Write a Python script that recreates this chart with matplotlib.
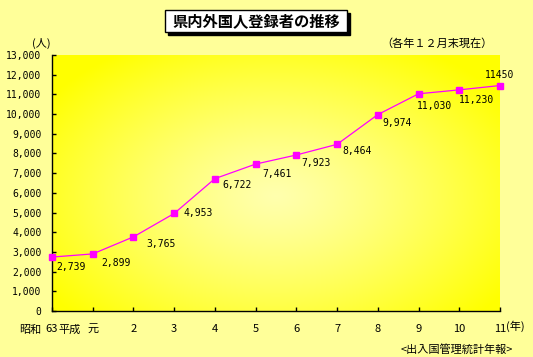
import numpy as np
import matplotlib.pyplot as plt
from matplotlib.patches import Rectangle

plt.rcParams['font.family'] = ['Noto Sans CJK JP', 'DejaVu Sans']

# データ（各年12月末現在）
years = ['63', '元', '2', '3', '4', '5', '6', '7', '8', '9', '10', '11']
persons = [2739, 2899, 3765, 4953, 6722, 7461, 7923, 8464, 9974, 11030, 11230, 11450]
value_labels = ['2,739', '2,899', '3,765', '4,953', '6,722', '7,461', '7,923',
                '8,464', '9,974', '11,030', '11,230', '11450']
y_ticks = list(range(0, 13001, 1000))

# ラベルの位置ずれ (px)
offsets = [(4, 10), (8.5, 9), (13, 7), (9, 0), (7, 6), (7, 10), (5, 8),
           (5, 7), (5, 8), (-2, 12), (0, 10), (0, -11)]

W, H = 533, 357
fig = plt.figure(figsize=(W/100, H/100), dpi=100, facecolor='#FFFF99')
ax = fig.add_axes([52/W, 1-311/H, 448/W, 256/H])

# 背景のグラデーション
gx, gy = np.meshgrid(np.linspace(0, 1, 200), np.linspace(0, 1, 200))
r = np.sqrt(((gx-0.5)/0.62)**2 + ((gy-0.45)/0.68)**2)
r = np.clip(r, 0, 1)**1.2
light = np.array([1.0, 1.0, 0.68])
yellow = np.array([1.0, 1.0, 0.0])
img = light*(1-r[..., None]) + yellow*r[..., None]
ax.imshow(img, extent=[0, 1, 0, 1], transform=ax.transAxes, aspect='auto',
          origin='lower', zorder=0)

x = np.arange(len(years))
ax.plot(x, persons, color='#FF00FF', lw=0.9, marker='s', markersize=5,
        markerfacecolor='#FF00FF', markeredgecolor='#FF00FF', clip_on=False, zorder=3)

for i, (v, lab) in enumerate(zip(persons, value_labels)):
    dx, dy = offsets[i]
    ha = 'center' if i == len(persons)-1 else 'left'
    ax.annotate(lab, (x[i], v), xytext=(dx*0.72, -dy*0.72), textcoords='offset points',
                ha=ha, va='center', fontsize=7, family=['DejaVu Sans Mono'], zorder=4)

ax.set_xlim(0, len(years)-1)
ax.set_ylim(0, 13000)
ax.set_yticks(y_ticks)
ax.set_yticklabels([f'{t:,}' for t in y_ticks], family=['DejaVu Sans Mono'], fontsize=7)
ax.set_xticks(x)
ax.set_xticklabels(years, fontsize=8)
ax.tick_params(axis='y', direction='in', length=3, width=1, pad=7.5)
ax.tick_params(axis='x', direction='in', length=3, width=1, pad=9)
for s in ['top', 'right']:
    ax.spines[s].set_visible(False)
for s in ['left', 'bottom']:
    ax.spines[s].set_linewidth(1)
ax.set_facecolor('#FFFF00')

# 文字
fig.text(41/W, 1-43.5/H, '(人)', ha='center', va='center', fontsize=8)
fig.text(437/W, 1-43.5/H, '（各年１２月末現在）', ha='center', va='center', fontsize=8)
fig.text(30/W, 1-329.5/H, '昭和', ha='center', va='center', fontsize=8)
fig.text(70/W, 1-329.5/H, '平成', ha='center', va='center', fontsize=8)
fig.text(506/W, 1-326/H, '(年)', ha='left', va='center', fontsize=8)
fig.text(401/W, 1-349/H, '<出入国管理統計年報>', ha='left', va='center', fontsize=8)

# タイトルの枠
fig.add_artist(Rectangle((168/W, 1-35/H), 182/W, 22/H, transform=fig.transFigure,
                         facecolor='black', edgecolor='black'))
fig.add_artist(Rectangle((165/W, 1-32/H), 182/W, 22/H, transform=fig.transFigure,
                         facecolor='white', edgecolor='black', lw=1))
fig.text(256/W, 1-21/H, '県内外国人登録者の推移', ha='center', va='center',
         fontsize=11, fontweight='bold')

plt.savefig('out.png', dpi=100, facecolor=fig.get_facecolor())
